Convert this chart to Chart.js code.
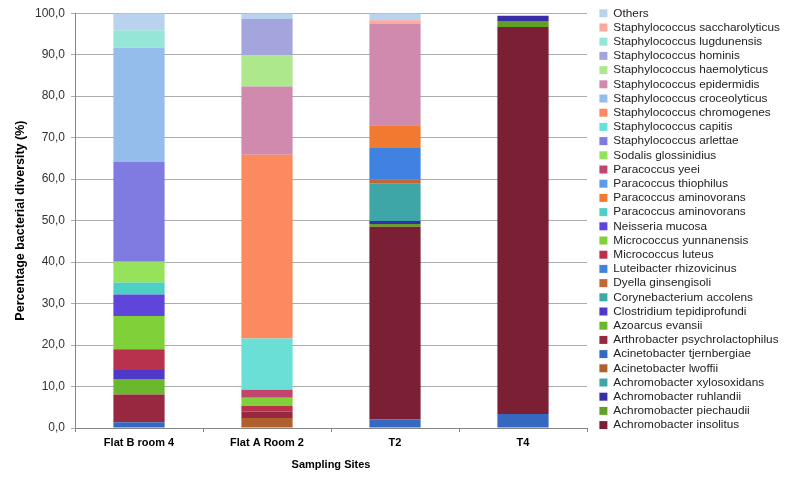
<!DOCTYPE html>
<html>
<head>
<meta charset="utf-8">
<script src="https://cdn.jsdelivr.net/npm/chart.js@4/dist/chart.umd.min.js"></script>
<style>
  html, body { margin: 0; padding: 0; background: #fff; }
  #wrap { width: 800px; height: 482px; }
</style>
</head>
<body>
<div id="wrap"><canvas id="myChart"></canvas></div>
<script>
// sampling sites
const sites = ["Flat B room 4", "Flat A Room 2", "T2", "T4"];

// percentages per site, listed from the bottom of the stack to the top
const acinetobacterTjernbergiae = [1.4, 0, 2.1, 3.4];
const acinetobacterLwoffii = [0, 2.4, 0, 0];
const achromobacterInsolitus = [0, 0, 46.4, 93.3];
const achromobacterPiechaudii = [0, 0, 0.7, 1.4];
const achromobacterRuhlandii = [0, 0, 0.7, 1.3];
const achromobacterXylosoxidans = [0, 0, 9.0, 0];
const arthrobacterPsychrolactophilus = [6.7, 1.6, 0, 0];
const azoarcusEvansii = [3.7, 0, 0, 0];
const clostridiumTepidiprofundi = [2.2, 0, 0, 0];
const corynebacteriumAccolens = [0, 0, 0, 0];
const dyellaGinsengisoli = [0, 0, 1.0, 0];
const luteibacterRhizovicinus = [0, 0, 7.6, 0];
const micrococcusLuteus = [5.0, 1.3, 0, 0];
const micrococcusYunnanensis = [8.0, 2.0, 0, 0];
const neisseriaMucosa = [5.2, 0, 0, 0];
const paracoccusAminovoransA = [2.9, 0, 0, 0];
const paracoccusAminovoransB = [0, 0, 5.5, 0];
const paracoccusThiophilus = [0, 0, 0, 0];
const paracoccusYeei = [0, 1.9, 0, 0];
const sodalisGlossinidius = [5.0, 0, 0, 0];
const staphArlettae = [24.0, 0, 0, 0];
const staphCapitis = [0, 12.4, 0, 0];
const staphChromogenes = [0, 44.3, 0, 0];
const staphCroceolyticus = [27.6, 0, 0, 0];
const staphEpidermidis = [0, 16.4, 24.4, 0];
const staphHaemolyticus = [0, 7.6, 0, 0];
const staphHominis = [0, 8.7, 0, 0];
const staphLugdunensis = [4.2, 0, 0, 0];
const staphSaccharolyticus = [0, 0, 0.9, 0];
const others = [4.1, 1.4, 1.7, 0];

// y axis ticks
const yTicks = [0, 10, 20, 30, 40, 50, 60, 70, 80, 90, 100];

// [label, values, colour, place in the legend counted from its bottom]
const series = [
  ["Acinetobacter tjernbergiae", acinetobacterTjernbergiae, "#3568c0", 5],
  ["Acinetobacter lwoffii", acinetobacterLwoffii, "#b0602c", 4],
  ["Achromobacter insolitus", achromobacterInsolitus, "#7a1f34", 0],
  ["Achromobacter piechaudii", achromobacterPiechaudii, "#62a024", 1],
  ["Achromobacter ruhlandii", achromobacterRuhlandii, "#3a2ea8", 2],
  ["Achromobacter xylosoxidans", achromobacterXylosoxidans, "#3ea6a6", 3],
  ["Arthrobacter psychrolactophilus", arthrobacterPsychrolactophilus, "#98283f", 6],
  ["Azoarcus evansii", azoarcusEvansii, "#6cb82c", 7],
  ["Clostridium tepidiprofundi", clostridiumTepidiprofundi, "#5038c8", 8],
  ["Corynebacterium accolens", corynebacteriumAccolens, "#3daaa6", 9],
  ["Dyella ginsengisoli", dyellaGinsengisoli, "#c0683a", 10],
  ["Luteibacter rhizovicinus", luteibacterRhizovicinus, "#3f82e0", 11],
  ["Micrococcus luteus", micrococcusLuteus, "#b8324e", 12],
  ["Micrococcus yunnanensis", micrococcusYunnanensis, "#80d03a", 13],
  ["Neisseria mucosa", neisseriaMucosa, "#5f45da", 14],
  ["Paracoccus aminovorans", paracoccusAminovoransA, "#4ecfc4", 15],
  ["Paracoccus aminovorans", paracoccusAminovoransB, "#f27a30", 16],
  ["Paracoccus thiophilus", paracoccusThiophilus, "#5b9bea", 17],
  ["Paracoccus yeei", paracoccusYeei, "#c2456f", 18],
  ["Sodalis glossinidius", sodalisGlossinidius, "#96e25a", 19],
  ["Staphylococcus arlettae", staphArlettae, "#7f7be0", 20],
  ["Staphylococcus capitis", staphCapitis, "#6adfd6", 21],
  ["Staphylococcus chromogenes", staphChromogenes, "#fd8a5e", 22],
  ["Staphylococcus croceolyticus", staphCroceolyticus, "#94bdeb", 23],
  ["Staphylococcus epidermidis", staphEpidermidis, "#cf8aae", 24],
  ["Staphylococcus haemolyticus", staphHaemolyticus, "#ade88c", 25],
  ["Staphylococcus hominis", staphHominis, "#a5a5de", 26],
  ["Staphylococcus lugdunensis", staphLugdunensis, "#96e6d8", 27],
  ["Staphylococcus saccharolyticus", staphSaccharolyticus, "#f9a99e", 28],
  ["Others", others, "#b9d3ee", 29]
];

const legendRank = series.map(s => s[3]);

const datasets = series.map(s => ({
  label: s[0],
  data: s[1],
  backgroundColor: s[2],
  borderWidth: 0,
  barPercentage: 0.4,
  categoryPercentage: 1.0
}));

const fontFamily = "'Liberation Sans', Arial, sans-serif";
const gridGrey = "#a8adad";

// legend needs a little space between the plot and the boxes
const legendGap = {
  id: "legendGap",
  afterInit(chart) {
    const legend = chart.legend;
    const fit = legend.fit;
    legend.fit = function () {
      fit.call(this);
      this.width = 213;
    };
  },
  afterLayout(chart) {
    chart.legend.left += 10;
    chart.legend.top -= 5;
  }
};

const ctx = document.getElementById("myChart").getContext("2d");
const myChart = new Chart(ctx, {
  type: "bar",
  data: { labels: sites, datasets: datasets },
  options: {
    responsive: true,
    maintainAspectRatio: false,
    animation: false,
    layout: { padding: { top: 10, left: 0, right: 0, bottom: 0 } },
    scales: {
      x: {
        stacked: true,
        grid: {
          offset: true,
          drawOnChartArea: false,
          drawTicks: true,
          tickLength: 4,
          color: "#868686"
        },
        border: { color: "#868686" },
        ticks: {
          color: "#000",
          padding: 4,
          font: { family: fontFamily, size: 11, weight: "bold" }
        },
        title: {
          display: true,
          text: "Sampling Sites",
          color: "#000",
          padding: { top: 0, bottom: 10 },
          font: { family: fontFamily, size: 11, weight: "bold" }
        },
        afterFit: (scale) => { scale.height = 54; }
      },
      y: {
        stacked: true,
        min: 0,
        max: 100,
        afterBuildTicks: (scale) => { scale.ticks = yTicks.map(v => ({ value: v })); },
        grid: {
          color: gridGrey,
          tickLength: 4,
          drawTicks: true
        },
        border: { color: "#868686" },
        ticks: {
          color: "#333",
          padding: 6,
          font: { family: fontFamily, size: 12 },
          callback: (v) => v.toFixed(1).replace(".", ",")
        },
        title: {
          display: true,
          text: "Percentage bacterial diversity (%)",
          color: "#000",
          padding: { top: 13, bottom: 0 },
          font: { family: fontFamily, size: 12.5, weight: "bold" }
        },
        afterFit: (scale) => { scale.width = 75; }
      }
    },
    plugins: {
      tooltip: { enabled: false },
      legend: {
        position: "right",
        align: "start",
        labels: {
          boxWidth: 8,
          boxHeight: 8,
          padding: 2.4,
          color: "#222",
          font: { family: fontFamily, size: 11.8 },
          sort: (a, b) => legendRank[b.datasetIndex] - legendRank[a.datasetIndex]
        }
      }
    }
  },
  plugins: [legendGap]
});
</script>
</body>
</html>
